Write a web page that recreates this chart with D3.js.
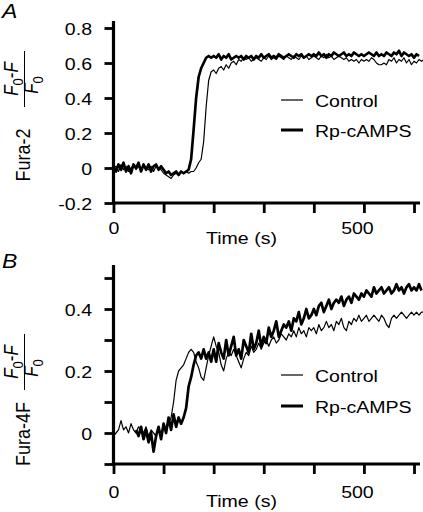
<!DOCTYPE html>
<html><head><meta charset="utf-8">
<script src="https://cdn.jsdelivr.net/npm/d3@7"></script>
<style>
html,body{margin:0;padding:0;background:#fff;}
text{font-family:"Liberation Sans",Arial,sans-serif;fill:#000;}
</style></head>
<body>
<svg id="c" width="423" height="512"></svg>
<script>
// ---------- DATA ----------
const sampleStep = 5; // s between samples
const timeTicks = [0, 100, 200, 300, 400, 500, 600];
const timeLabels = {0: "0", 500: "500"};
const yTicksA = [-0.2, 0, 0.2, 0.4, 0.6, 0.8];
const yLabelsA = ["-0.2", "0", "0.2", "0.4", "0.6", "0.8"];
const yTicksB = [-0.1, 0, 0.1, 0.2, 0.3, 0.4, 0.5];
const yLabelsB = ["", "0", "", "0.2", "", "0.4", ""];
const seriesNames = ["Control", "Rp-cAMPS"];

// Panel A (Fura-2), start t = 0
const aControlStart = 0;
const aControl = [
 0.00, 0.01,-0.02, 0.02,-0.01, 0.01,-0.02, 0.00, 0.02,-0.01, 0.01,-0.02, 0.02, 0.00,-0.01, 0.01,-0.02, 0.01, 0.00,-0.01,
-0.03,-0.04,-0.05,-0.06,-0.04,-0.03,-0.04,-0.02,-0.03,-0.02,-0.03,-0.02,
-0.02, 0.00, 0.03, 0.05, 0.15, 0.35, 0.50, 0.55,
 0.56, 0.54, 0.57, 0.58, 0.56, 0.59, 0.57, 0.60, 0.61, 0.59,
 0.62, 0.61, 0.63, 0.62, 0.63, 0.61, 0.62, 0.63, 0.62, 0.61,
 0.63, 0.62, 0.64, 0.62, 0.63, 0.62, 0.64, 0.63, 0.62, 0.64,
 0.63, 0.62, 0.64, 0.63, 0.62, 0.64, 0.63, 0.64, 0.62, 0.63,
 0.64, 0.63, 0.62, 0.64, 0.63, 0.65, 0.63, 0.64, 0.62, 0.63,
 0.64, 0.63, 0.62, 0.63, 0.61, 0.62, 0.61, 0.62, 0.60, 0.62,
 0.61, 0.62, 0.61, 0.63, 0.62, 0.60, 0.59, 0.59, 0.60, 0.59,
 0.62, 0.61, 0.63, 0.60, 0.62, 0.61, 0.63, 0.60, 0.62, 0.59,
 0.61, 0.60, 0.62, 0.61, 0.62
];
const aRpStart = 0;
const aRp = [
 0.01,-0.02, 0.02,-0.01, 0.03,-0.02, 0.01,-0.03, 0.02, 0.00, 0.03,-0.02, 0.02,-0.01, 0.02,-0.02, 0.01, 0.02,-0.01, 0.01,
-0.01,-0.03,-0.02,-0.04,-0.03,-0.02,-0.04,-0.02,-0.03,-0.02,
-0.01, 0.05, 0.22, 0.40, 0.52, 0.57, 0.60, 0.63, 0.64, 0.63,
 0.64, 0.63, 0.65, 0.62, 0.64, 0.63, 0.65, 0.62, 0.63, 0.64,
 0.63, 0.64, 0.62, 0.64, 0.63, 0.64, 0.62, 0.64, 0.63, 0.65,
 0.63, 0.64, 0.65, 0.63, 0.64, 0.63, 0.65, 0.64, 0.63, 0.64,
 0.65, 0.64, 0.63, 0.65, 0.64, 0.65, 0.63, 0.64, 0.65, 0.64,
 0.65, 0.64, 0.66, 0.64, 0.65, 0.63, 0.65, 0.64, 0.66, 0.65,
 0.64, 0.65, 0.66, 0.64, 0.65, 0.64, 0.66, 0.65, 0.64, 0.65,
 0.64, 0.65, 0.66, 0.65, 0.64, 0.66, 0.64, 0.65, 0.64, 0.66,
 0.65, 0.64, 0.66, 0.65, 0.67, 0.64, 0.66, 0.65, 0.64, 0.65,
 0.63, 0.65, 0.64
];

// Panel B (Fura-4F)
const bControlStart = 0;
const bControl = [
-0.01, 0.00, 0.01, 0.04, 0.01, 0.02, 0.00, 0.03, 0.01, 0.00, 0.02, 0.01, 0.00, 0.02,-0.01, 0.01, 0.00,-0.01, 0.01, 0.00,
 0.02, 0.01, 0.03, 0.05, 0.10, 0.17, 0.20, 0.21, 0.22, 0.24,
 0.26, 0.27, 0.26, 0.23, 0.21, 0.18, 0.17, 0.21, 0.25, 0.28,
 0.31, 0.28, 0.26, 0.22, 0.20, 0.24, 0.26, 0.25, 0.27, 0.25,
 0.23, 0.21, 0.24, 0.26, 0.25, 0.28, 0.26, 0.27, 0.29, 0.27,
 0.29, 0.30, 0.28, 0.30, 0.31, 0.29, 0.30, 0.32, 0.31, 0.30,
 0.32, 0.31, 0.33, 0.31, 0.34, 0.32, 0.33, 0.31, 0.34, 0.33,
 0.34, 0.32, 0.35, 0.33, 0.34, 0.36, 0.34, 0.35, 0.33, 0.36,
 0.35, 0.37, 0.34, 0.33, 0.36, 0.35, 0.37, 0.36, 0.38, 0.36,
 0.37, 0.38, 0.36, 0.37, 0.38, 0.37, 0.36, 0.38, 0.37, 0.35,
 0.34, 0.37, 0.38, 0.37, 0.38, 0.39, 0.38, 0.37, 0.38, 0.39,
 0.38, 0.39, 0.38, 0.39, 0.39
];
const bRpStart = 45;
const bRp = [
 0.01,-0.01, 0.02,-0.02, 0.01,-0.03, 0.00,-0.06,-0.01, 0.02,-0.02,
 0.03, 0.00, 0.05, 0.01, 0.06, 0.02, 0.05, 0.03, 0.05, 0.08,
 0.15, 0.18, 0.22, 0.25, 0.26, 0.24, 0.27, 0.24, 0.26, 0.23,
 0.27, 0.23, 0.29, 0.26, 0.24, 0.30, 0.25, 0.28, 0.31, 0.25,
 0.27, 0.24, 0.30, 0.28, 0.26, 0.32, 0.27, 0.29, 0.33, 0.28,
 0.31, 0.29, 0.34, 0.31, 0.33, 0.36, 0.31, 0.33, 0.35, 0.34,
 0.36, 0.33, 0.37, 0.36, 0.39, 0.35, 0.37, 0.40, 0.37, 0.38,
 0.40, 0.38, 0.41, 0.42, 0.39, 0.41, 0.43, 0.40, 0.42, 0.43,
 0.42, 0.44, 0.41, 0.43, 0.44, 0.42, 0.45, 0.44, 0.43, 0.45,
 0.44, 0.46, 0.45, 0.44, 0.47, 0.45, 0.46, 0.47, 0.45, 0.46,
 0.47, 0.45, 0.46, 0.48, 0.46, 0.47, 0.45, 0.47, 0.48, 0.46,
 0.47, 0.46, 0.48, 0.46
];

// ---------- DRAWING ----------
const svg = d3.select("#c");
const SX = 1.15;           // horizontal text stretch seen in the reference
const FONT = 17;

function toPts(vals, start) { return vals.map((v, i) => [start + i * sampleStep, v]); }

function stretchedText(g, x, y, str, size, anchor, extra) {
  const t = g.append("text")
    .attr("transform", `translate(${x},${y}) scale(${SX},1)`)
    .attr("text-anchor", anchor || "start")
    .attr("font-size", size)
    .text(str);
  if (extra) extra(t);
  return t;
}

function panel(cfg) {
  const g = svg.append("g");
  const x = d3.scaleLinear().domain([0, 600]).range([113.5, 414]);
  const y = d3.scaleLinear().domain(cfg.yDomain).range(cfg.yRange);
  const axisY = cfg.yRange[0];

  // data lines
  const line = d3.line().x(d => x(d[0])).y(d => y(d[1]));
  g.append("path").datum(toPts(cfg.control, cfg.controlStart))
    .attr("d", line).attr("fill", "none").attr("stroke", "#000")
    .attr("stroke-width", 1.2).attr("stroke-linejoin", "round");
  g.append("path").datum(toPts(cfg.rp, cfg.rpStart))
    .attr("d", line).attr("fill", "none").attr("stroke", "#000")
    .attr("stroke-width", 2.7).attr("stroke-linejoin", "round");

  // y axis
  const ya = g.append("g").attr("transform", `translate(${x(0)},0)`)
    .call(d3.axisLeft(y).tickValues(cfg.yTicks).tickSize(9).tickSizeOuter(0)
      .tickFormat((d, i) => cfg.yLabels[i]));
  ya.select(".domain").remove();
  ya.selectAll(".tick line").attr("stroke", "#000").attr("stroke-width", 2.8);
  ya.selectAll(".tick text").attr("x", -21.5 / SX).attr("dy", "0.36em")
    .attr("transform", `scale(${SX},1)`).attr("font-size", FONT)
    .attr("font-family", '"Liberation Sans",Arial,sans-serif').attr("fill", "#000");
  g.append("line").attr("x1", x(0)).attr("x2", x(0))
    .attr("y1", cfg.yTop).attr("y2", axisY + 1.5)
    .attr("stroke", "#000").attr("stroke-width", 3.2);

  // x axis
  const xa = g.append("g").attr("transform", `translate(0,${axisY})`)
    .call(d3.axisBottom(x).tickValues(timeTicks).tickSize(10).tickSizeOuter(0)
      .tickFormat(d => timeLabels[d] || ""));
  xa.select(".domain").remove();
  xa.selectAll(".tick line").attr("stroke", "#000").attr("stroke-width", 2.8);
  xa.selectAll(".tick text").attr("y", cfg.xLabelDy).attr("dy", 0)
    .attr("dx", d => d === 500 ? -7 / SX : 0)
    .attr("transform", `scale(${SX},1)`).attr("font-size", FONT)
    .attr("font-family", '"Liberation Sans",Arial,sans-serif').attr("fill", "#000");
  g.append("line").attr("x1", x(0) - 1.6).attr("x2", 420)
    .attr("y1", axisY).attr("y2", axisY)
    .attr("stroke", "#000").attr("stroke-width", 3.2);

  stretchedText(g, 241.5, cfg.timeY, "Time (s)", FONT, "middle");

  // legend
  const lg = cfg.legend;
  g.append("line").attr("x1", 281).attr("x2", 303).attr("y1", lg[0]).attr("y2", lg[0])
    .attr("stroke", "#000").attr("stroke-width", 1.2);
  g.append("line").attr("x1", 281).attr("x2", 303).attr("y1", lg[1]).attr("y2", lg[1])
    .attr("stroke", "#000").attr("stroke-width", 3);
  stretchedText(g, 315, lg[0] + 6.5, seriesNames[0], FONT);
  stretchedText(g, 315, lg[1] + 6.5, seriesNames[1], FONT);

  // panel letter
  stretchedText(g, 2, cfg.letterY, cfg.letter, 20, "start", t => t.attr("font-style", "italic"));

  // y label: name + fraction (F0-F)/F0, rotated
  g.append("text")
    .attr("transform", `translate(30,${cfg.nameY}) scale(${SX},1) rotate(-90)`)
    .attr("text-anchor", "middle").attr("font-size", 18).text(cfg.name);
  const fc = cfg.fracY, fh = cfg.fracHalf;
  g.append("line").attr("x1", 24.5).attr("x2", 24.5).attr("y1", fc - fh).attr("y2", fc + fh)
    .attr("stroke", "#000").attr("stroke-width", 1);
  const num = g.append("text")
    .attr("transform", `translate(18,${fc}) scale(${SX},1) rotate(-90)`)
    .attr("text-anchor", "middle").attr("font-size", 17);
  num.append("tspan").attr("font-style", "italic").text("F");
  num.append("tspan").attr("font-size", 13).attr("dy", 4).text("0");
  num.append("tspan").attr("dy", -4).text("-");
  num.append("tspan").attr("font-style", "italic").text("F");
  const den = g.append("text")
    .attr("transform", `translate(38,${fc + 6}) scale(${SX},1) rotate(-90)`)
    .attr("text-anchor", "middle").attr("font-size", 17);
  den.append("tspan").attr("font-style", "italic").text("F");
  den.append("tspan").attr("font-size", 13).attr("dy", 4).text("0");
}

panel({
  letter: "A", letterY: 18,
  yDomain: [-0.2, 0.8], yRange: [203, 28], yTop: 21,
  yTicks: yTicksA, yLabels: yLabelsA,
  control: aControl, controlStart: aControlStart, rp: aRp, rpStart: aRpStart,
  xLabelDy: 31, timeY: 244, legend: [100, 130],
  name: "Fura-2", nameY: 155, fracY: 79, fracHalf: 28
});
panel({
  letter: "B", letterY: 268,
  yDomain: [-0.1, 0.5], yRange: [464, 278], yTop: 265,
  yTicks: yTicksB, yLabels: yLabelsB,
  control: bControl, controlStart: bControlStart, rp: bRp, rpStart: bRpStart,
  xLabelDy: 34, timeY: 507, legend: [375, 406],
  name: "Fura-4F", nameY: 434, fracY: 362, fracHalf: 28
});
</script>
</body></html>
